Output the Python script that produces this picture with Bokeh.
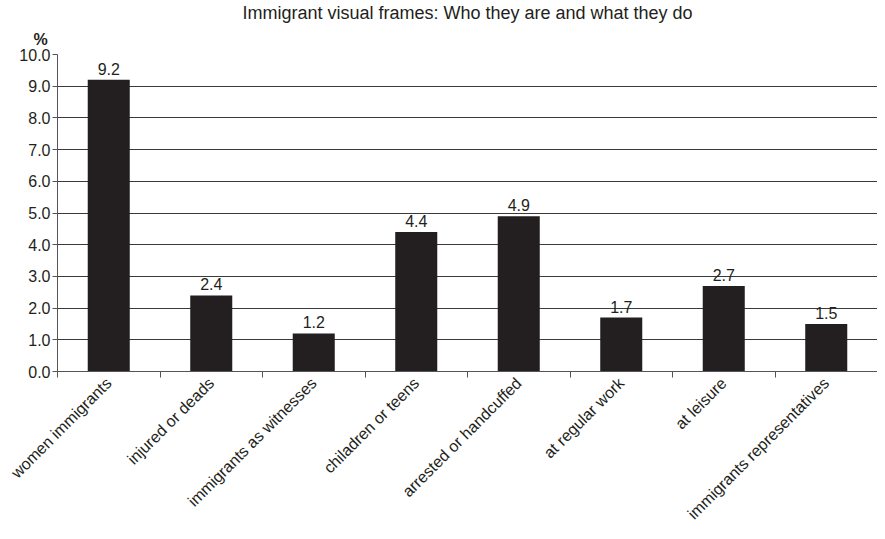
import math
from bokeh.plotting import figure
from bokeh.models import Range1d, FixedTicker, Title, NumeralTickFormatter, ColumnDataSource
from bokeh.embed import file_html
from bokeh.resources import INLINE

title_text = "Immigrant visual frames: Who they are and what they do"
unit_text = "%"
categories = [
    "women immigrants",
    "injured or deads",
    "immigrants as witnesses",
    "chiladren or teens",
    "arrested or handcuffed",
    "at regular work",
    "at leisure",
    "immigrants representatives",
]
values = [9.2, 2.4, 1.2, 4.4, 4.9, 1.7, 2.7, 1.5]
y_ticks = [0, 1, 2, 3, 4, 5, 6, 7, 8, 9, 10]

FONT = "Liberation Sans"
INK = "#231f20"

n = len(categories)
positions = list(range(1, n + 1))
src = ColumnDataSource(dict(
    x=positions,
    top=values,
    label=["%.1f" % v for v in values],
))

p = figure(
    width=877, height=531,
    x_range=Range1d(0.5, n + 0.5), y_range=Range1d(0, 10),
    output_backend="svg", toolbar_location=None,
    min_border_left=57, min_border_right=0, min_border_top=0, min_border_bottom=0,
)
p.title = None
p.outline_line_color = None
p.background_fill_color = "white"

t_unit = Title(text=unit_text, align="left", offset=-24, standoff=13,
               text_font=FONT, text_font_size="16px", text_font_style="bold",
               text_color=INK)
t_main = Title(text=title_text, align="center", standoff=0,
               text_font=FONT, text_font_size="18px", text_font_style="normal",
               text_color=INK)
p.add_layout(t_unit, "above")
p.add_layout(t_main, "above")

p.vbar(x="x", top="top", width=0.41, source=src, fill_color=INK, line_color=None)
p.text(x="x", y="top", text="label", source=src, text_align="center",
       text_baseline="bottom", y_offset=-5, text_font_size="16px",
       text_color=INK, text_font={"value": FONT})

# grid
p.xgrid.grid_line_color = None
p.ygrid.grid_line_color = "#3a3a3a"
p.ygrid.grid_line_width = 1.2

# y axis
yax = p.yaxis[0]
yax.ticker = FixedTicker(ticks=y_ticks)
yax.formatter = NumeralTickFormatter(format="0.0")
yax.major_tick_in = 0
yax.major_tick_out = 5
yax.minor_tick_line_color = None
yax.axis_line_color = "#555555"
yax.major_tick_line_color = "#555555"
yax.major_label_text_font = FONT
yax.major_label_text_font_size = "16px"
yax.major_label_text_color = INK
yax.major_label_standoff = 2

# x axis: labels at centres, ticks at boundaries (minor ticks)
xax = p.xaxis[0]
xax.ticker = FixedTicker(ticks=positions, minor_ticks=[i + 0.5 for i in range(0, n + 1)])
xax.major_label_overrides = {pos: cat for pos, cat in zip(positions, categories)}
xax.major_label_orientation = math.pi / 4
xax.major_tick_in = 0
xax.major_tick_out = 0
xax.minor_tick_in = 0
xax.minor_tick_out = 6
xax.minor_tick_line_color = "#555555"
xax.axis_line_color = "#555555"
xax.major_label_text_font = FONT
xax.major_label_text_font_size = "16px"
xax.major_label_text_color = INK
xax.major_label_standoff = 3

open("out.html", "w").write(file_html(p, INLINE))
